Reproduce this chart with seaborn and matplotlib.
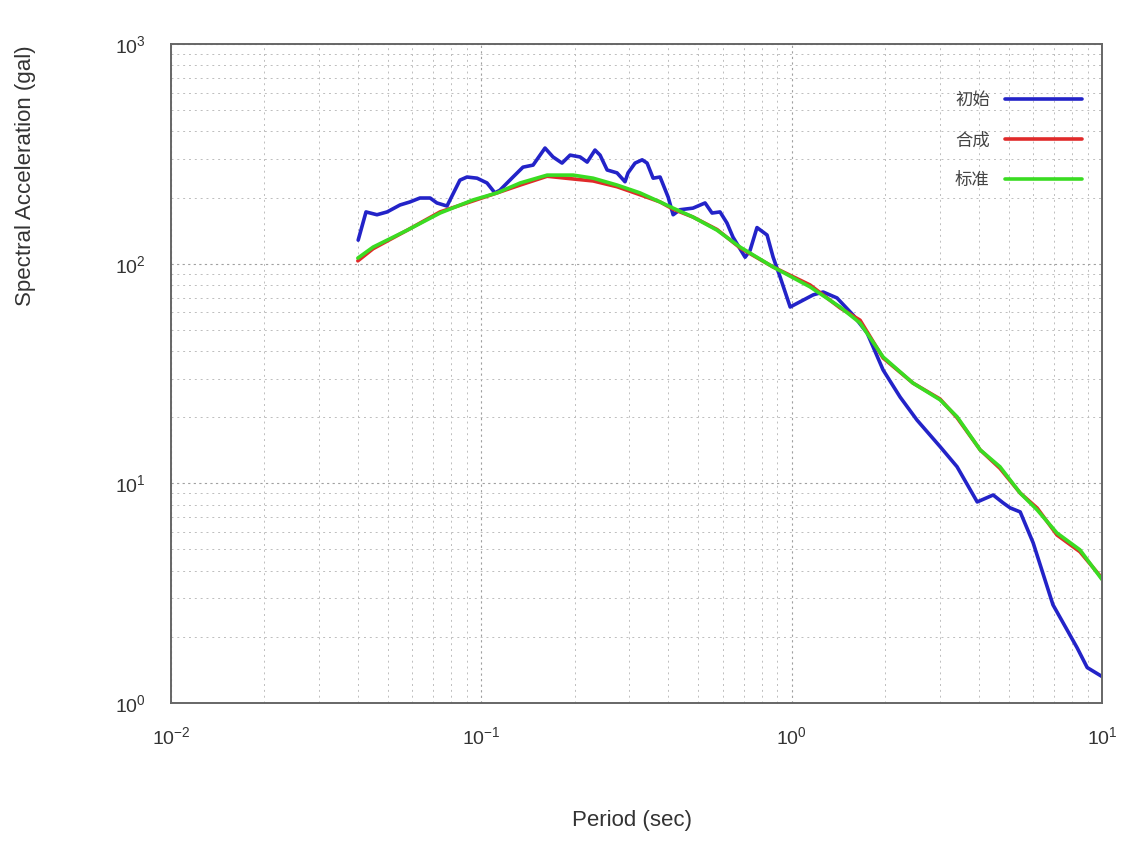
import matplotlib
matplotlib.use("Agg")
import matplotlib.pyplot as plt
import seaborn as sns
import pandas as pd
from matplotlib.lines import Line2D
from matplotlib.ticker import LogLocator, NullFormatter

# ---- data ----
period_init = [0.0401, 0.0425, 0.0461, 0.0497, 0.0547, 0.0589, 0.0634, 0.0684, 0.0719, 0.0775,
               0.0853, 0.0899, 0.0969, 0.1043, 0.1106, 0.1148, 0.1265, 0.1362, 0.1468, 0.1604,
               0.1702, 0.1820, 0.1932, 0.2081, 0.2193, 0.2324, 0.2413, 0.2543, 0.2737, 0.2904,
               0.2970, 0.3129, 0.3298, 0.3421, 0.3577, 0.3767, 0.3999, 0.4150, 0.4366, 0.4809,
               0.5260, 0.5539, 0.5877, 0.6190, 0.6471, 0.7079, 0.7345, 0.7732, 0.8332, 0.8715,
               0.918, 0.989, 1.173, 1.263, 1.400, 1.577, 1.750, 1.971, 2.236, 2.535,
               3.007, 3.411, 3.962, 4.46, 4.80, 5.06, 5.45, 6.00, 6.95, 7.72,
               8.32, 8.96, 10.0]
sa_init = [128, 172, 167, 172, 185, 191, 199, 199, 189, 183,
           240, 248, 245, 233, 210, 216, 248, 275, 281, 336,
           306, 287, 312, 306, 290, 329, 312, 267, 259, 236,
           259, 287, 297, 287, 245, 248, 201, 167, 176, 179,
           189, 170, 172, 153, 132, 107, 115, 146, 135, 107,
           86.9, 63.5, 72.1, 74.3, 69.8, 58.4, 48.4, 32.8, 24.7, 19.4,
           14.7, 11.9, 8.23, 8.85, 8.15, 7.73, 7.41, 5.36, 2.80, 2.15,
           1.78, 1.45, 1.32]

period_std = [0.0400, 0.0448, 0.0577, 0.0736, 0.0940, 0.1124, 0.1334, 0.1629, 0.1977, 0.2292,
              0.2737, 0.3245, 0.3765, 0.415, 0.481, 0.575, 0.682, 0.871, 1.146, 1.432,
              1.661, 1.971, 2.460, 3.007, 3.411, 4.05, 4.69, 5.45, 6.18, 7.16,
              8.49, 10.0]
sa_syn = [103, 117, 142, 172, 193, 210, 228, 250, 243, 238,
          224, 206, 191, 177, 163, 143, 118, 96.6, 80.0, 62.9,
          55.3, 37.2, 28.6, 24.2, 19.9, 14.2, 11.7, 9.03, 7.72, 5.82,
          4.88, 3.70]
sa_std = [106, 119, 142, 170, 195, 210, 233, 253, 253, 245,
          228, 210, 191, 179, 163, 142, 119, 96.6, 78.4, 63.5,
          53.7, 37.6, 28.6, 24.0, 20.1, 14.2, 11.9, 9.03, 7.57, 5.94,
          4.98, 3.65]

labels = ["初始", "合成", "标准"]
colors = ["#2323c8", "#e02a2a", "#3adc22"]

df = pd.concat([
    pd.DataFrame({"period": period_init, "sa": sa_init, "series": labels[0]}),
    pd.DataFrame({"period": period_std, "sa": sa_syn, "series": labels[1]}),
    pd.DataFrame({"period": period_std, "sa": sa_std, "series": labels[2]}),
], ignore_index=True)

sns.set_style("white")
plt.rcParams["font.family"] = ["Liberation Sans", "Noto Sans CJK SC", "DejaVu Sans"]

fig = plt.figure(figsize=(11.27, 8.48), dpi=100)
ax = fig.add_axes([171 / 1127, 1 - 703 / 848, 931 / 1127, 659 / 848])

sns.lineplot(data=df, x="period", y="sa", hue="series", palette=dict(zip(labels, colors)),
             linewidth=2.6, ax=ax, legend=False, sort=False, estimator=None)

ax.set_xscale("log")
ax.set_yscale("log")
ax.set_xlim(1e-2, 1e1)
ax.set_ylim(1e0, 1e3)

ax.xaxis.set_major_locator(LogLocator(base=10, numticks=10))
ax.yaxis.set_major_locator(LogLocator(base=10, numticks=10))
ax.xaxis.set_minor_locator(LogLocator(base=10, subs=range(2, 10), numticks=20))
ax.yaxis.set_minor_locator(LogLocator(base=10, subs=range(2, 10), numticks=20))
ax.xaxis.set_minor_formatter(NullFormatter())
ax.yaxis.set_minor_formatter(NullFormatter())

ax.grid(which="major", linestyle=(0, (2, 3)), color="#a0a0a0", linewidth=0.8)
ax.grid(which="minor", linestyle=(0, (2, 4)), color="#bdbdbd", linewidth=0.7)
ax.set_axisbelow(True)

ax.tick_params(which="both", direction="in", length=0, labelsize=14, colors="#333333")
ax.tick_params(axis="x", pad=17)
ax.tick_params(axis="y", pad=18)
for sp in ax.spines.values():
    sp.set_color("#666666")
    sp.set_linewidth(1.4)

ax.set_xlabel("Period (sec)", fontsize=16, color="#333333")
ax.set_ylabel("Spectral Acceleration (gal)", fontsize=16, color="#333333")
ax.xaxis.set_label_coords(0.495, -0.163)
ax.yaxis.set_label_coords(-0.145, 0.80)

handles = [Line2D([0], [0], color=c, lw=2.6) for c in colors]
leg = ax.legend(handles, labels, loc="upper right", bbox_to_anchor=(0.995, 0.95),
                frameon=False, markerfirst=False, fontsize=12.5, handlelength=4.4,
                handletextpad=0.9, labelspacing=1.38)
for t in leg.get_texts():
    t.set_color("#444444")

fig.savefig("out.png", dpi=100, facecolor="white")
